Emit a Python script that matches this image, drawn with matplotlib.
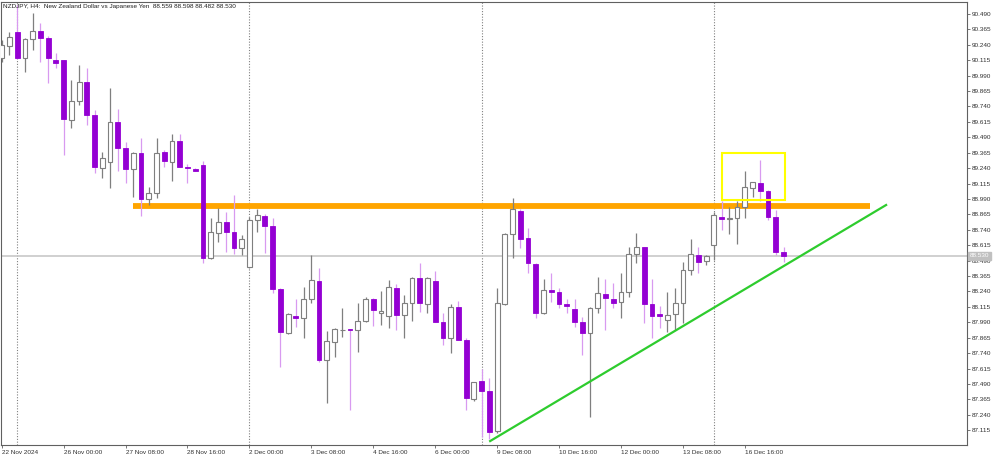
import matplotlib
matplotlib.use("Agg")
import matplotlib.pyplot as plt
from matplotlib.patches import Rectangle
import numpy as np

plt.rcParams['font.family'] = ['Liberation Sans', 'DejaVu Sans']

title = "NZDJPY, H4:  New Zealand Dollar vs Japanese Yen  88.559 88.598 88.482 88.530"

opens = [90.133, 90.230, 90.344, 90.133, 90.287, 90.352, 90.295, 90.117, 90.117, 89.630,
         89.784, 89.939, 89.671, 89.241, 89.290, 89.614, 89.403, 89.233, 89.363, 88.990,
         89.038, 89.371, 89.290, 89.460, 89.249, 89.233, 89.265, 88.511, 88.714, 88.803,
         88.722, 88.592, 88.438, 88.819, 88.852, 88.771, 88.260, 87.903, 88.041, 88.025,
         88.179, 88.325, 87.684, 87.830, 87.927, 87.935, 87.927, 88.000, 88.179, 88.065,
         88.041, 88.268, 88.049, 88.146, 88.349, 88.138, 88.325, 87.992, 87.862, 88.114,
         87.846, 87.368, 87.514, 87.433, 87.108, 88.138, 88.706, 88.892, 88.673, 88.463,
         88.065, 88.252, 88.235, 88.138, 88.098, 87.992, 87.903, 88.106, 88.219, 88.179,
         88.154, 88.235, 88.544, 88.600, 88.138, 88.057, 88.008, 88.057, 88.146, 88.414,
         88.535, 88.487, 88.617, 88.844, 88.827, 88.836, 88.925, 89.079, 89.119, 89.055,
         88.844, 88.559]
highs = [90.279, 90.344, 90.563, 90.295, 90.498, 90.417, 90.312, 90.174, 90.117, 89.955,
         90.076, 90.052, 89.711, 89.371, 89.890, 89.720, 89.452, 89.371, 89.484, 89.087,
         89.484, 89.387, 89.517, 89.517, 89.274, 89.241, 89.298, 88.836, 88.917, 88.884,
         89.022, 88.698, 88.844, 88.909, 88.868, 88.836, 88.268, 88.065, 88.179, 88.276,
         88.535, 88.430, 87.919, 87.943, 88.106, 87.935, 88.146, 88.195, 88.187, 88.244,
         88.333, 88.300, 88.211, 88.357, 88.471, 88.357, 88.406, 88.065, 88.138, 88.162,
         87.862, 87.506, 87.611, 87.538, 88.268, 88.714, 88.998, 88.909, 88.754, 88.471,
         88.341, 88.390, 88.268, 88.179, 88.179, 88.033, 88.114, 88.357, 88.341, 88.308,
         88.390, 88.600, 88.714, 88.600, 88.341, 88.122, 88.235, 88.268, 88.479, 88.665,
         88.600, 88.535, 88.884, 88.973, 88.925, 88.973, 89.217, 89.128, 89.306, 89.063,
         88.900, 88.598]
lows = [90.101, 90.157, 90.125, 90.020, 90.198, 90.101, 89.930, 90.052, 89.346, 89.565,
        89.752, 89.590, 89.201, 89.160, 89.079, 89.217, 89.119, 89.006, 88.852, 88.941,
        88.998, 89.249, 89.136, 89.249, 89.119, 89.217, 88.471, 88.505, 88.641, 88.560,
        88.544, 88.535, 88.430, 88.722, 88.552, 88.227, 87.627, 87.895, 87.952, 87.862,
        88.146, 87.668, 87.335, 87.708, 87.870, 87.278, 87.749, 87.992, 87.960, 87.968,
        87.943, 87.927, 87.862, 88.000, 88.073, 88.065, 87.992, 87.806, 87.741, 87.846,
        87.278, 87.351, 87.059, 87.043, 87.092, 88.130, 88.511, 88.592, 88.390, 88.025,
        88.057, 88.154, 88.106, 88.065, 87.952, 87.724, 87.222, 88.065, 87.927, 88.106,
        88.025, 88.195, 88.471, 87.984, 87.862, 87.943, 87.911, 87.927, 87.984, 88.373,
        88.390, 88.454, 88.495, 88.738, 88.706, 88.625, 88.836, 89.006, 88.973, 88.819,
        88.535, 88.482]
closes = [90.239, 90.303, 90.133, 90.287, 90.352, 90.295, 90.133, 90.093, 89.638, 89.784,
          89.939, 89.671, 89.249, 89.322, 89.614, 89.403, 89.233, 89.363, 88.990, 89.038,
          89.363, 89.298, 89.460, 89.249, 89.241, 89.217, 88.511, 88.722, 88.803, 88.722,
          88.592, 88.665, 88.819, 88.860, 88.771, 88.260, 87.911, 88.057, 88.025, 88.179,
          88.333, 87.684, 87.838, 87.935, 87.927, 87.927, 88.000, 88.179, 88.089, 88.081,
          88.276, 88.049, 88.146, 88.349, 88.146, 88.349, 87.992, 87.862, 88.114, 87.846,
          87.376, 87.506, 87.433, 87.100, 88.146, 88.706, 88.909, 88.665, 88.471, 88.065,
          88.252, 88.235, 88.138, 88.122, 87.992, 87.903, 88.106, 88.227, 88.187, 88.146,
          88.235, 88.544, 88.600, 88.138, 88.041, 88.041, 88.049, 88.146, 88.414, 88.544,
          88.479, 88.527, 88.860, 88.827, 88.836, 88.925, 89.087, 89.128, 89.055, 88.844,
          88.560, 88.530]

x_labels = ["22 Nov 2024", "26 Nov 00:00", "27 Nov 08:00", "28 Nov 16:00", "2 Dec 00:00",
            "3 Dec 08:00", "4 Dec 16:00", "6 Dec 00:00", "9 Dec 08:00", "10 Dec 16:00",
            "12 Dec 00:00", "13 Dec 08:00", "16 Dec 16:00"]
x_label_bars = [0, 8, 16, 24, 32, 40, 48, 56, 64, 72, 80, 88, 96]
week_starts = [2, 32, 62, 92]
y_ticks = [90.490, 90.365, 90.240, 90.115, 89.990, 89.865, 89.740, 89.615, 89.490,
           89.365, 89.240, 89.115, 88.990, 88.865, 88.740, 88.615, 88.490, 88.365,
           88.240, 88.115, 87.990, 87.865, 87.740, 87.615, 87.490, 87.365, 87.240, 87.115]
current_price = 88.530
resistance = 88.930
resistance_span = [17, 112.2]
trend_start = [63.1, 87.027]
trend_end = [114.25, 88.941]
box_x = [93.06, 101.2]
box_y = [88.981, 89.363]

W, H = 1000, 457
fig = plt.figure(figsize=(W/100, H/100), dpi=100)
ax = fig.add_axes([1/W, 1 - 445/H, 966/W, 443/H])
ax.set_xlim(-0.09, 124.7)
ax.set_ylim(86.995, 90.587)

bull_edge = '#7f7f7f'
bear_body = '#9400D3'
bear_wick = '#D89AF0'

n = len(opens)
xs = np.arange(n)
bw = 0.62
for i in range(n):
    o, h, l, c = opens[i], highs[i], lows[i], closes[i]
    bull = c >= o
    wick_col = bull_edge if bull else bear_wick
    ax.vlines(i, l, h, color=wick_col, lw=0.9, zorder=3)
    bot = min(o, c)
    ht = max(abs(c - o), 0.004)
    if bull:
        ax.add_patch(Rectangle((i - bw/2, bot), bw, ht, facecolor='white',
                               edgecolor=bull_edge, lw=0.8, zorder=4))
    else:
        ax.add_patch(Rectangle((i - bw/2, bot), bw, ht, facecolor=bear_body,
                               edgecolor=bear_body, lw=0.6, zorder=4))

# week separators
for ws in week_starts:
    ax.axvline(ws, color='#808080', ls=(0, (1, 1.5)), lw=0.8, zorder=1)

# current price line
ax.axhline(current_price, color='#c8c8c8', lw=1.2, zorder=1)

# resistance (orange)
ax.plot(resistance_span, [resistance, resistance], color='#FFA500', lw=4.2,
        solid_capstyle='butt', zorder=2)
# trend line
ax.plot([trend_start[0], trend_end[0]], [trend_start[1], trend_end[1]],
        color='#2ecc2e', lw=1.6, zorder=5)
# yellow box
ax.add_patch(Rectangle((box_x[0], box_y[0]), box_x[1] - box_x[0], box_y[1] - box_y[0],
                       fill=False, edgecolor='#FFFF00', lw=1.5, zorder=5))

# axes styling
for s in ax.spines.values():
    s.set_color('#606060')
    s.set_linewidth(0.8)
ax.yaxis.tick_right()
ax.set_yticks(y_ticks)
ax.set_yticklabels([f"{v:.3f}" for v in y_ticks])
ax.tick_params(axis='y', direction='out', length=2.5, width=0.6, colors='#606060',
               labelsize=4.6, labelcolor='#303030', pad=1)
ax.set_xticks(x_label_bars)
ax.set_xticklabels(x_labels, ha='left')
ax.tick_params(axis='x', direction='out', length=2.5, width=0.6, colors='#606060',
               labelsize=4.6, labelcolor='#303030', pad=1)
for lab in ax.get_xticklabels():
    lab.set_x(0)

# current price tag
ax.text(1.003, current_price, "88.530", transform=ax.get_yaxis_transform(),
        fontsize=4.6, color='white', va='center', ha='left', zorder=10, clip_on=False,
        bbox=dict(boxstyle='square,pad=0.25', fc='#c0c0c0', ec='#c0c0c0'))

fig.text(3/W, 1 - 6.5/H, title, fontsize=4.6, color='#202020', va='center', ha='left')

fig.savefig('out.png', dpi=100)
